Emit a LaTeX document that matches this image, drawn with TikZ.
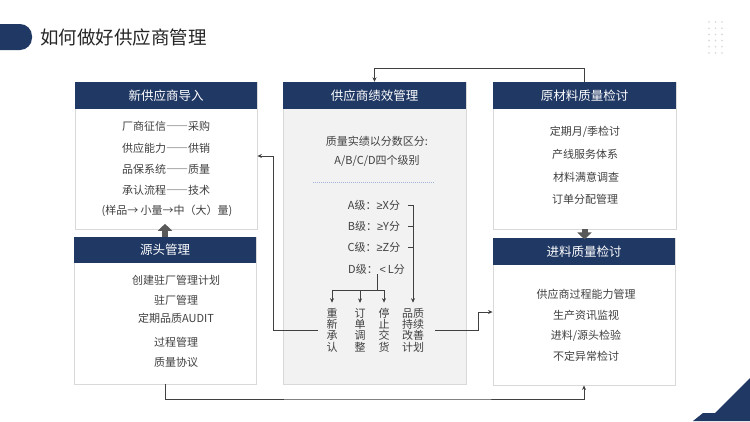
\documentclass[tikz,border=0pt]{standalone}
\usepackage{fontspec}
\setmainfont{Noto Sans CJK SC}
\newfontfamily\libsans{Liberation Sans}
\newfontfamily\fullw[CharacterWidth=Full]{Noto Sans CJK SC}
\newcommand\fdash{{\fullw ——}}
\usetikzlibrary{arrows.meta,calc}
\definecolor{navy}{HTML}{203864}
\definecolor{bordergray}{HTML}{D9D9D9}
\definecolor{panelgray}{HTML}{F2F2F2}
\definecolor{txtgray}{HTML}{404040}
\definecolor{titlegray}{HTML}{262626}
\definecolor{linegray}{HTML}{404040}
\definecolor{blockgray}{HTML}{595959}
\definecolor{sepblue}{HTML}{9DB3D6}
\definecolor{dotgray}{HTML}{D6D6D6}
\begin{document}
\begin{tikzpicture}[x=1pt,y=-1pt,
  panel/.style={draw=bordergray,line width=0.9pt,fill=white,inner sep=0},
  hdr/.style={fill=navy,text=white,inner sep=0,font=\fontsize{12.5}{14}\selectfont},
  itm/.style={text=txtgray,inner sep=0,font=\fontsize{11}{13}\selectfont},
  vtxt/.style={text=txtgray,inner sep=0,align=center,font=\fontsize{11}{11.4}\selectfont},
  conn/.style={draw=linegray,line width=0.8pt},
  tip/.style={-{Stealth[length=4.5pt,width=4pt]}},
  blk/.style={draw=blockgray,line width=6pt,-{Triangle[length=7pt,width=14pt]}}
]
\useasboundingbox (0,0) rectangle (750,421);
\fill[white] (0,0) rectangle (750,421);

% decorations
\fill[navy,rounded corners=12pt] (-20,24) rectangle (32,50);
\foreach \i in {0,...,5}{
  \foreach \j in {0,1,2}{
    \fill[dotgray] (709+6.5*\j,22+6.2*\i) circle (0.9);
  }
}
\fill[navy] (750,378) -- (715,413) -- (703,413) -- (693,421) -- (750,421) -- cycle;

\node[anchor=west,text=titlegray,inner sep=0,font=\fontsize{18.5}{20}\selectfont] (title) at (40,37.5) {如何做好供应商管理};

% panels
\node[panel,minimum width=182pt,minimum height=147pt] (b1) at (166,155.5) {};
\node[panel,minimum width=182pt,minimum height=147pt] (b2) at (165,310.5) {};
\node[panel,fill=panelgray,minimum width=183pt,minimum height=302pt] (pf) at (374.5,233) {};
\node[panel,minimum width=183pt,minimum height=147pt] (b3) at (584.5,155.5) {};
\node[panel,minimum width=182pt,minimum height=147pt] (b4) at (584,311.5) {};

% headers
\node[hdr,minimum width=182pt,minimum height=27pt] (h1) at (166,95.5) {新供应商导入};
\node[hdr,minimum width=182pt,minimum height=26pt] (h2) at (165,250) {源头管理};
\node[hdr,minimum width=183pt,minimum height=27pt] (hp) at (374.5,95.5) {供应商绩效管理};
\node[hdr,minimum width=183pt,minimum height=27pt] (h3) at (584.5,95.5) {原材料质量检讨};
\node[hdr,minimum width=182pt,minimum height=27pt] (h4) at (584,251.5) {进料质量检讨};

% box 1 items
\node[itm] (t11) at (166,126) {厂商征信\fdash 采购};
\node[itm] (t12) at (166,148) {供应能力\fdash 供销};
\node[itm] (t13) at (166,169) {品保系统\fdash 质量};
\node[itm] (t14) at (166,190) {承认流程\fdash 技术};
\node[itm] (t15) at (167,210.5) {(样品→ 小量→中（大）量)};

% box 2 items
\node[itm] (t21) at (176,280) {创建驻厂管理计划};
\node[itm] (t22) at (176,300) {驻厂管理};
\node[itm] (t23) at (176,318) {定期品质AUDIT};
\node[itm] (t24) at (176,342) {过程管理};
\node[itm] (t25) at (176,362) {质量协议};

% box 3 items
\node[itm] (t31) at (585,132) {定期月/季检讨};
\node[itm] (t32) at (585,154) {产线服务体系};
\node[itm] (t33) at (586,177) {材料满意调查};
\node[itm] (t34) at (585,199) {订单分配管理};

% box 4 items
\node[itm] (t41) at (586,294) {供应商过程能力管理};
\node[itm] (t42) at (586,315) {生产资讯监视};
\node[itm] (t43) at (586,336) {进料/源头检验};
\node[itm] (t44) at (586,356) {不定异常检讨};

% performance panel
\node[itm] (p1) at (377,141) {质量实绩以分数区分:};
\node[itm] (p2) at (377,160.5) {A/B/C/D四个级别};
\draw[sepblue,line width=0.6pt,dash pattern=on 1pt off 1pt] (313,182) -- (435,182);
\node[itm] (la) at (374,205) {A级：{\libsans ≥}X分};
\node[itm] (lb) at (374,226) {B级：{\libsans ≥}Y分};
\node[itm] (lc) at (374,247.5) {C级：{\libsans ≥}Z分};
\node[itm] (ld) at (376.5,269) {D级：{\libsans\,<\,}L分};

\node[vtxt] (v1) at (332,330) {重\\新\\承\\认};
\node[vtxt] (v2) at (360,330) {订\\单\\调\\整};
\node[vtxt] (v3) at (384,330) {停\\止\\交\\货};
\node[vtxt] (v4) at (413,330) {品质\\持续\\改善\\计划};

\coordinate (bar) at (377,290);
\coordinate (tk) at (408,0);
\draw[conn] (ld.south -| bar) -- (bar);
\draw[conn] (v1.north |- bar) -- (v3.north |- bar);
\foreach \v in {v1,v2,v3}{
  \draw[conn,tip] (\v.north |- bar) -- ([yshift=5pt]\v.north);
}
\draw[conn] (la.east -| tk) -- (la.east -| v4.north);
\draw[conn] (lb.east -| tk) -- (lb.east -| v4.north);
\draw[conn] (lc.east -| tk) -- (lc.east -| v4.north);
\draw[conn,tip] (la.east -| v4.north) -- ([yshift=5pt]v4.north);

% block arrows
\draw[blk] (h2.north) -- ++(0,-13);
\draw[blk] (b3.south) -- ++(0,10);

% connectors
\coordinate (c1) at (273,156);
\coordinate (c2) at (478,312);
\coordinate (top) at (374.5,68);
\coordinate (bot) at (400,399);
\draw[conn,tip] ([xshift=-8pt]v1.west) -| (c1) -- (c1 -| b1.east);
\draw[conn,tip] ([xshift=11pt]v4.east) -| (c2) -- (c2 -| b4.west);
\draw[conn,tip] (h3.north) |- (top) -- (hp.north);
\draw[conn,tip] (b2.south) |- (bot) -| (b4.south);
\end{tikzpicture}
\end{document}
